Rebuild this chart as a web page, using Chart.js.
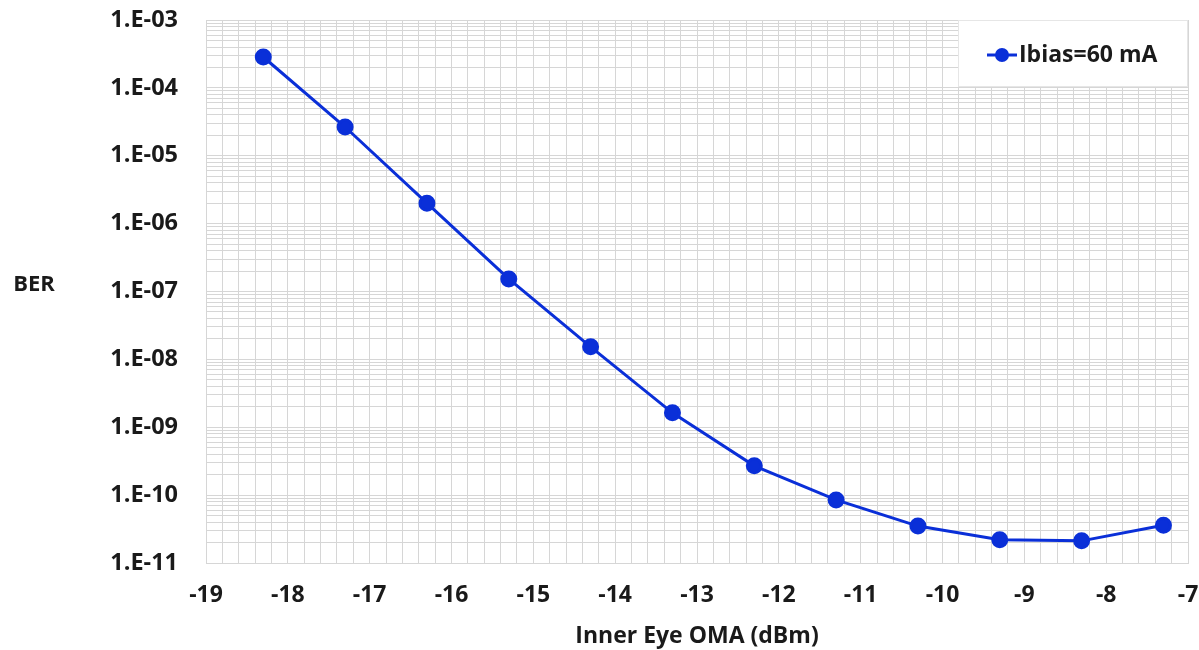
<!DOCTYPE html>
<html>
<head>
<meta charset="utf-8">
<script src="https://cdn.jsdelivr.net/npm/chart.js@4.4.1/dist/chart.umd.min.js"></script>
<style>
  html, body { margin: 0; padding: 0; background: #ffffff; }
  #wrap { width: 1199px; height: 650px; position: relative; }
</style>
</head>
<body>
<div id="wrap"><canvas id="c" width="1199" height="650"></canvas></div>
<script>
// Inner-eye OMA sweep (dBm) and measured bit error rate
const omaDbm = [-18.3, -17.3, -16.3, -15.3, -14.3, -13.3, -12.3, -11.3, -10.3, -9.3, -8.3, -7.3];
const berValues = [2.85e-4, 2.65e-5, 2.0e-6, 1.53e-7, 1.53e-8, 1.63e-9, 2.7e-10, 8.5e-11, 3.5e-11, 2.2e-11, 2.12e-11, 3.6e-11];
const seriesLabel = 'Ibias=60 mA';
const xTitle = 'Inner Eye OMA (dBm)';
const yTitle = 'BER';

const FONT = '"Open Sans"';
const lineBlue = '#0a2fd8';
const gridGray = '#d6d6d6';
const textColor = '#1a1a1a';

// Horizontal "BER" label beside the value axis
const sideTitle = {
  id: 'sideTitle',
  afterDraw(chart) {
    const ctx = chart.ctx;
    ctx.save();
    ctx.font = `bold 22px ${FONT}`;
    ctx.fillStyle = textColor;
    ctx.textAlign = 'center';
    ctx.textBaseline = 'middle';
    ctx.fillText(yTitle, 34, 285);
    ctx.restore();
  }
};

// Boxed legend in the top-right corner of the plot area
const boxLegend = {
  id: 'boxLegend',
  beforeDatasetsDraw(chart) {
    const ctx = chart.ctx;
    const area = chart.chartArea;
    const ds = chart.data.datasets[0];
    const bw = 230, bh = 67;
    const bx = area.right - bw, by = area.top;
    ctx.save();
    ctx.fillStyle = '#ffffff';
    ctx.fillRect(bx, by, bw, bh);
    ctx.strokeStyle = '#e6e6e6';
    ctx.lineWidth = 1;
    ctx.strokeRect(bx + 0.5, by + 0.5, bw - 1, bh - 1);
    const cy = by + 35;
    const lx = bx + 29;
    ctx.strokeStyle = ds.borderColor;
    ctx.lineWidth = 3;
    ctx.beginPath();
    ctx.moveTo(lx, cy);
    ctx.lineTo(lx + 30, cy);
    ctx.stroke();
    ctx.fillStyle = ds.pointBackgroundColor;
    ctx.beginPath();
    ctx.arc(lx + 15, cy, 7, 0, Math.PI * 2);
    ctx.fill();
    ctx.font = `bold 23px ${FONT}`;
    ctx.fillStyle = textColor;
    ctx.textAlign = 'left';
    ctx.textBaseline = 'middle';
    ctx.fillText(ds.label, lx + 32, cy);
    ctx.restore();
  }
};

new Chart(document.getElementById('c'), {
  type: 'line',
  data: {
    datasets: [{
      label: seriesLabel,
      data: omaDbm.map((x, i) => ({ x: x, y: berValues[i] })),
      borderColor: lineBlue,
      backgroundColor: lineBlue,
      pointBackgroundColor: lineBlue,
      pointBorderColor: lineBlue,
      borderWidth: 3,
      pointRadius: 7,
      tension: 0
    }]
  },
  options: {
    responsive: false,
    animation: false,
    layout: { padding: { left: 0, right: 11, top: 20, bottom: 0 } },
    plugins: {
      legend: { display: false },
      tooltip: { enabled: false }
    },
    scales: {
      x: {
        type: 'linear',
        min: -19,
        max: -7,
        afterFit(scale) { scale.height = 87; },
        afterBuildTicks(scale) {
          const t = [];
          for (let k = 0; k <= 60; k++) t.push({ value: -19 + k * 0.2 });
          scale.ticks = t;
        },
        ticks: {
          autoSkip: false,
          maxRotation: 0,
          padding: 0,
          color: textColor,
          font: { family: FONT, size: 23, weight: 'bold' },
          callback(v) {
            const r = Math.round(v);
            return Math.abs(v - r) < 1e-6 ? String(r) : '';
          }
        },
        grid: { color: gridGray, lineWidth: 1, drawTicks: true, tickLength: 19, tickColor: 'rgba(0,0,0,0)' },
        border: { color: gridGray },
        title: {
          display: true,
          text: xTitle,
          color: textColor,
          font: { family: FONT, size: 23, weight: 'bold' },
          padding: { top: 0, bottom: 0 }
        }
      },
      y: {
        type: 'logarithmic',
        min: 1e-11,
        max: 1e-3,
        afterFit(scale) { scale.width = 206; },
        afterBuildTicks(scale) {
          const t = [];
          for (let e = -11; e < -3; e++) {
            for (let m = 1; m <= 9; m++) t.push({ value: m * Math.pow(10, e) });
          }
          t.push({ value: 1e-3 });
          scale.ticks = t;
        },
        ticks: {
          autoSkip: false,
          padding: 0,
          color: textColor,
          font: { family: FONT, size: 23.5, weight: 'bold' },
          callback(v) {
            const e = Math.log10(v);
            const r = Math.round(e);
            if (Math.abs(e - r) > 1e-6) return '';
            const a = Math.abs(r);
            return '1.E' + (r < 0 ? '-' : '+') + (a < 10 ? '0' + a : String(a));
          }
        },
        grid: { color: gridGray, lineWidth: 1, drawTicks: true, tickLength: 28, tickColor: 'rgba(0,0,0,0)' },
        border: { color: gridGray }
      }
    }
  },
  plugins: [sideTitle, boxLegend]
});
</script>
</body>
</html>
